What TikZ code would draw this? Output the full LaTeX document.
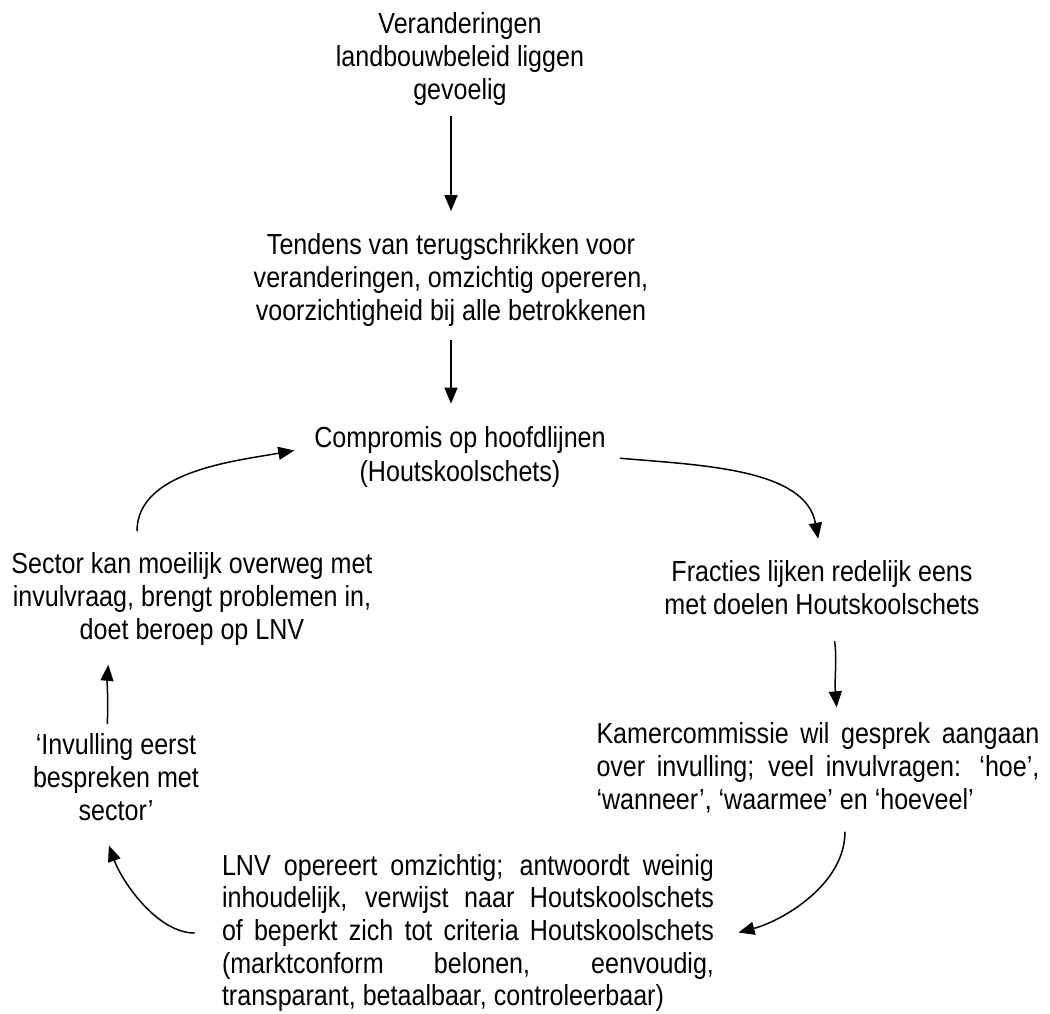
\documentclass[tikz,border=0pt]{standalone}
\usepackage{fontspec}
\setmainfont{Liberation Sans}[FakeStretch=0.865]
\usetikzlibrary{arrows.meta,positioning}
\tolerance=9999
\hbadness=10000

\begin{document}
\begin{tikzpicture}
		[auto,
		stage/.style ={inner sep=0pt, align=center, font=\fontsize{16.5pt}{18.8pt}\selectfont},
		wide/.style ={stage, align=justify},
		link/.style ={line width=0.85pt, -{Triangle[length=3.2mm,width=2.6mm]}},
		]
		\useasboundingbox (0,0) rectangle (21,-20.28);

		\draw (9.2,-1.18) node[stage] (change) {Veranderingen\\landbouwbeleid liggen\\gevoelig};
		\draw (9.02,-5.6) node[stage] (shrink) {Tendens van terugschrikken voor\\veranderingen, omzichtig opereren,\\voorzichtigheid bij alle betrokkenen};
		\draw (9.2,-9.14) node[stage] (sketch) {Compromis op hoofdlijnen\\(Houtskoolschets)};
		\draw (16.44,-11.76) node[stage] (groups) {Fracties lijken redelijk eens\\met doelen Houtskoolschets};
		\draw (16.36,-15.36) node[wide, text width=8.86cm] (house) {Kamercommissie wil gesprek aangaan\linebreak over invulling; veel invulvragen: ‘hoe’,\linebreak ‘wanneer’, ‘waarmee’ en ‘hoeveel’};
		\draw (9.36,-18.66) node[wide, text width=9.84cm, font=\fontsize{16.5pt}{18.6pt}\selectfont] (lnv) {LNV opereert omzichtig; antwoordt weinig\linebreak inhoudelijk, verwijst naar Houtskoolschets\linebreak of beperkt zich tot criteria Houtskoolschets\linebreak (marktconform belonen, eenvoudig,\linebreak transparant, betaalbaar, controleerbaar)};
		\draw (2.32,-15.54) node[stage] (first) {‘Invulling eerst\\bespreken met\\sector’};
		\draw (3.84,-11.98) node[stage] (sector) {Sector kan moeilijk overweg met\\invulvraag, brengt problemen in,\\doet beroep op LNV};

		\path[link]
		(change.south -| shrink.center) edge[shorten <=0.2cm, shorten >=0.44cm] (shrink.north)
		(shrink.south) edge[shorten <=0.26cm, shorten >=0.46cm] (sketch.north -| shrink.center)
		(sketch.east) edge[out=-5,in=100, shorten <=0.28cm, shorten >=0.44cm] (groups.north)
		([xshift=0.16cm]groups.south) edge[out=-80,in=95, shorten <=0.52cm, shorten >=0.3cm] ([xshift=0.4cm]house.north)
		([xshift=0.54cm]house.south) edge[out=-90,in=15, shorten <=0.36cm, shorten >=0.5cm] ([yshift=-0.12cm]lnv.east)
		(lnv.west) edge[out=180,in=-70, shorten <=0.54cm, shorten >=0.52cm] ([xshift=-0.32cm]first.south)
		([xshift=-0.18cm]first.north) edge[out=88,in=-95, shorten <=0.18cm, shorten >=0.38cm] ([xshift=-1.64cm]sector.south)
		([xshift=-1.1cm]sector.north) edge[out=90,in=190, shorten <=0.42cm, shorten >=0.4cm] ([yshift=0.2cm]sketch.west);

	\end{tikzpicture}
\end{document}
